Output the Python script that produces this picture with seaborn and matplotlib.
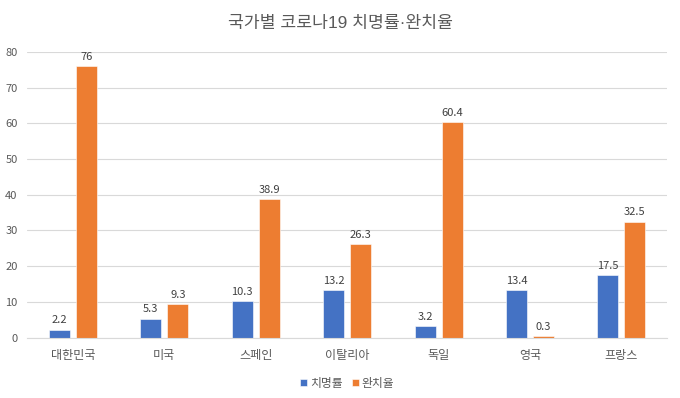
import matplotlib
matplotlib.use("Agg")
import matplotlib.pyplot as plt
import pandas as pd
import seaborn as sns

# ── Data ──────────────────────────────────────────────────────────────────────
COUNTRIES = ["대한민국", "미국", "스페인", "이탈리아", "독일", "영국", "프랑스"]
FATALITY = [2.2, 5.3, 10.3, 13.2, 3.2, 13.4, 17.5]   # 치명률
RECOVERY = [76, 9.3, 38.9, 26.3, 60.4, 0.3, 32.5]     # 완치율
SERIES = ["치명률", "완치율"]
Y_TICKS = [0, 10, 20, 30, 40, 50, 60, 70, 80]

PALETTE = ["#4472C4", "#ED7D31"]
TEXT = "#595959"
GRID = "#D9D9D9"

df = pd.DataFrame({
    "country": COUNTRIES * 2,
    "series": [SERIES[0]] * len(COUNTRIES) + [SERIES[1]] * len(COUNTRIES),
    "value": FATALITY + RECOVERY,
})

sns.set_theme(style="white")
plt.rcParams["font.family"] = ["Noto Sans CJK KR", "DejaVu Sans"]

fig = plt.figure(figsize=(6.8, 3.98), dpi=100)
ax = fig.add_axes([0.040, 0.152, 0.941, 0.717])

sns.barplot(data=df, x="country", y="value", hue="series", order=COUNTRIES,
            hue_order=SERIES, palette=PALETTE, width=0.59, gap=0.22,
            edgecolor="white", linewidth=0.4, saturation=1, ax=ax)

for cont in ax.containers:
    ax.bar_label(cont, labels=[f"{v:g}" for v in cont.datavalues],
                 padding=3, fontsize=8, color="#404040")

ax.set_ylim(0, 80)
ax.set_yticks(Y_TICKS)
ax.yaxis.grid(True, color=GRID, linewidth=0.8)
ax.set_axisbelow(True)
for side in ("top", "right", "left"):
    ax.spines[side].set_visible(False)
ax.spines["bottom"].set_color(GRID)
ax.spines["bottom"].set_linewidth(0.8)
ax.tick_params(axis="y", length=0, pad=7, labelsize=8, labelcolor=TEXT)
ax.tick_params(axis="x", length=0, pad=8, labelsize=8.7, labelcolor=TEXT)
ax.set_xlabel("")
ax.set_ylabel("")
ax.set_xlim(-0.5, len(COUNTRIES) - 0.5)

ax.legend(loc="upper center", bbox_to_anchor=(0.5, -0.1), ncol=2, frameon=False,
          fontsize=8.5, labelcolor=TEXT, handlelength=0.6, handleheight=0.6,
          handletextpad=0.2, columnspacing=0.8)

# Latin font first so the middle dot stays narrow; Hangul falls back to Noto CJK
fig.text(0.5, 0.94, "국가별 코로나19 치명률·완치율", ha="center", va="center",
         fontsize=12.4, color=TEXT, family=["Liberation Sans", "Noto Sans CJK KR"])

fig.savefig("out.png", dpi=100)
